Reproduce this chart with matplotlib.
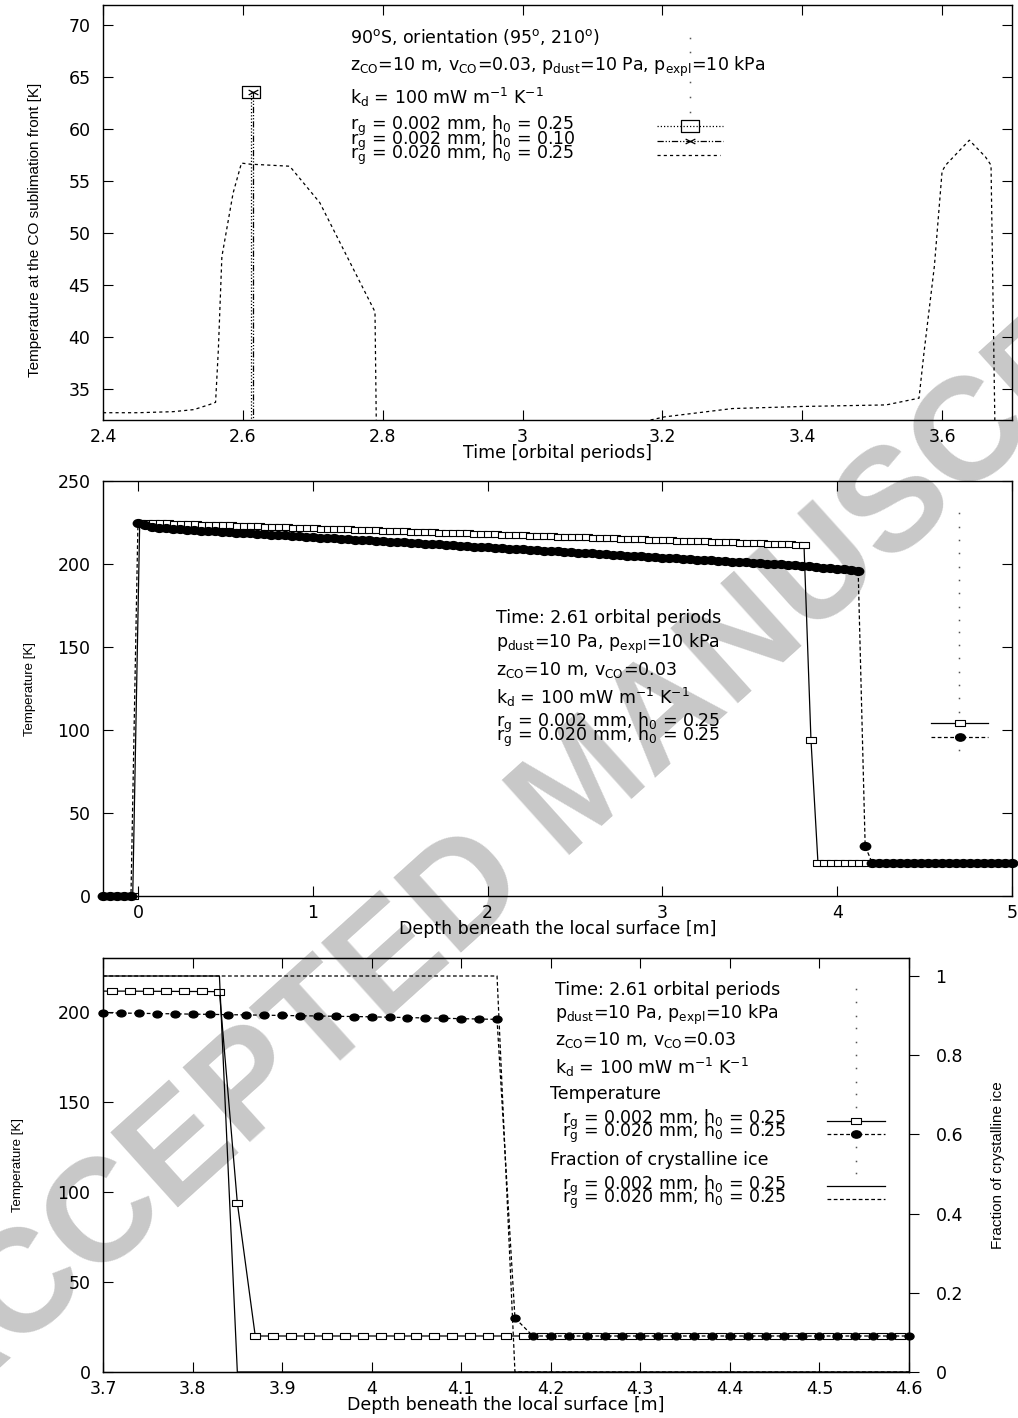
import numpy as np
import matplotlib.pyplot as plt
from matplotlib.lines import Line2D
from matplotlib.path import Path
from matplotlib.ticker import FixedLocator, FixedFormatter

# ---------------- data ----------------
# top panel: temperature at the CO sublimation front vs time [orbital periods]
time_a = [2.612, 2.612]          # r_g = 0.002 mm, h0 = 0.25
temp_a = [63.5, 25.0]
time_b = [2.615, 2.615]          # r_g = 0.002 mm, h0 = 0.10
temp_b = [63.5, 25.0]
time_c = [2.40, 2.45, 2.50, 2.53, 2.553, 2.561, 2.565, 2.570, 2.586, 2.598,
          2.61, 2.667, 2.71, 2.789, 2.792, 2.80, 3.15, 3.203, 3.30, 3.40,
          3.52, 3.567, 3.574, 3.589, 3.600, 3.605, 3.639, 3.662, 3.670, 3.677]
temp_c = [32.7, 32.7, 32.8, 33.0, 33.5, 33.7, 38.8, 47.7, 53.8, 56.7,
          56.6, 56.4, 52.9, 42.4, 25.0, 25.0, 31.5, 32.3, 33.1, 33.3,
          33.45, 34.1, 38.4, 46.8, 55.9, 56.5, 58.9, 57.3, 56.5, 25.0]

# middle panel: temperature profile at t = 2.61 (model nodes every 0.04 m)
depth_mid_a = np.round(np.arange(-0.19, 4.98, 0.04), 2)
temp_mid_a = [0.0] * 5 + [
    225.0, 224.9, 224.7, 224.6, 224.4, 224.3, 224.2, 224.0, 223.9, 223.7,
    223.6, 223.4, 223.3, 223.2, 223.0, 222.9, 222.7, 222.6, 222.5, 222.3,
    222.2, 222.0, 221.9, 221.8, 221.6, 221.5, 221.3, 221.2, 221.0, 220.9,
    220.8, 220.6, 220.5, 220.3, 220.2, 220.1, 219.9, 219.8, 219.6, 219.5,
    219.4, 219.2, 219.1, 218.9, 218.8, 218.7, 218.5, 218.4, 218.2, 218.1,
    217.9, 217.8, 217.7, 217.5, 217.4, 217.2, 217.1, 217.0, 216.8, 216.7,
    216.5, 216.4, 216.3, 216.1, 216.0, 215.8, 215.7, 215.5, 215.4, 215.3,
    215.1, 215.0, 214.8, 214.7, 214.6, 214.4, 214.3, 214.1, 214.0, 213.9,
    213.7, 213.6, 213.4, 213.3, 213.1, 213.0, 212.9, 212.7, 212.6, 212.4,
    212.3, 212.2, 212.0, 211.9, 211.7, 211.6] + [94.0] + [20.0] * 28

depth_mid_b = np.round(np.arange(-0.20, 5.01, 0.04), 2)
temp_mid_b = [0.0] * 5 + [
    225.0, 223.5, 222.3, 221.6, 221.4, 221.1, 220.9, 220.6, 220.4, 220.1,
    219.9, 219.6, 219.4, 219.1, 218.9, 218.7, 218.4, 218.2, 217.9, 217.7,
    217.4, 217.2, 216.9, 216.7, 216.4, 216.2, 215.9, 215.7, 215.5, 215.2,
    215.0, 214.7, 214.5, 214.2, 214.0, 213.7, 213.5, 213.2, 213.0, 212.8,
    212.5, 212.3, 212.0, 211.8, 211.5, 211.3, 211.0, 210.8, 210.5, 210.3,
    210.1, 209.8, 209.6, 209.3, 209.1, 208.8, 208.6, 208.3, 208.1, 207.8,
    207.6, 207.3, 207.1, 206.9, 206.6, 206.4, 206.1, 205.9, 205.6, 205.4,
    205.1, 204.9, 204.6, 204.4, 204.1, 203.9, 203.7, 203.4, 203.2, 202.9,
    202.7, 202.4, 202.2, 201.9, 201.7, 201.4, 201.2, 201.0, 200.7, 200.5,
    200.2, 200.0, 199.7, 199.5, 199.2, 198.8, 198.5, 198.1, 197.8, 197.5,
    197.1, 196.8, 196.4, 196.0] + [30.0] + [20.0] * 21

# bottom panel: zoom on the front (nodes every 0.02 m)
depth_bot_a = np.round(np.arange(3.69, 4.60, 0.02), 2)
temp_bot_a = [211.6, 211.6, 211.6, 211.5, 211.5, 211.4, 211.4, 211.3] + [94.0] + [20.0] * 37
depth_bot_b = np.round(np.arange(3.70, 4.61, 0.02), 2)
temp_bot_b = [199.6, 199.4, 199.3, 199.1, 199.0, 198.8, 198.7, 198.5, 198.4, 198.2,
              198.1, 197.9, 197.8, 197.6, 197.5, 197.3, 197.1, 196.9, 196.7, 196.5,
              196.3, 196.1, 195.9] + [30.0] + [20.0] * 22
frac_depth_a = [3.70, 3.83, 3.85, 4.60]
frac_a = [1.0, 1.0, 0.0, 0.0]
frac_depth_b = [3.70, 4.14, 4.16, 4.60]
frac_b = [1.0, 1.0, 0.0, 0.0]

# ticks
top_xticks = [2.4, 2.6, 2.8, 3.0, 3.2, 3.4, 3.6]
top_xlabels = ['2.4', '2.6', '2.8', '3', '3.2', '3.4', '3.6']
top_yticks = [35, 40, 45, 50, 55, 60, 65, 70]
mid_xticks = [0, 1, 2, 3, 4, 5]
mid_yticks = [0, 50, 100, 150, 200, 250]
bot_xticks = [3.7, 3.8, 3.9, 4.0, 4.1, 4.2, 4.3, 4.4, 4.5, 4.6]
bot_xlabels = ['3.7', '3.8', '3.9', '4', '4.1', '4.2', '4.3', '4.4', '4.5', '4.6']
bot_yticks = [0, 50, 100, 150, 200]
frac_ticks = [0, 0.2, 0.4, 0.6, 0.8, 1.0]
frac_labels = ['0', '0.2', '0.4', '0.6', '0.8', '1']

# ---------------- figure ----------------
W, H = 1018, 1418
plt.rcParams['font.family'] = ['DejaVu Sans']
plt.rcParams['mathtext.default'] = 'regular'
FS = 12.5
YFONT = ['Liberation Sans', 'DejaVu Sans']

fig = plt.figure(figsize=(W / 100, H / 100), dpi=100)


def box(x0, y0, x1, y1):
    return [x0 / W, 1 - y1 / H, (x1 - x0) / W, (y1 - y0) / H]


def style(ax):
    ax.set_facecolor('none')
    for s in ax.spines.values():
        s.set_linewidth(1.0)
    ax.tick_params(direction='in', length=7, width=0.8, top=True, right=True,
                   labelsize=FS)
    ax.tick_params(axis='x', pad=6)
    ax.tick_params(axis='y', pad=9)


# marker shapes (gnuplot squares/circles look flattened in the original)
rect = Path([(-1, -0.62), (1, -0.62), (1, 0.62), (-1, 0.62), (-1, -0.62)],
            [Path.MOVETO, Path.LINETO, Path.LINETO, Path.LINETO, Path.CLOSEPOLY])
circ = Path.unit_circle()
ell = Path(circ.vertices * np.array([1.0, 0.75]), circ.codes)
cross = Path([(-1, -0.5), (1, 0.5), (-1, 0.5), (1, -0.5)],
             [Path.MOVETO, Path.LINETO, Path.MOVETO, Path.LINETO])

DOT = (0, (1, 1.6))
DDD = (0, (5, 1.5, 1, 1.5, 1, 1.5))
SHORT = (0, (2.5, 2.5))
DASH = (0, (3, 2))

# watermark
fig.text(585 / W, 1 - 790 / H, 'ACCEPTED MANUSCRIPT', rotation=42, fontsize=105,
         fontweight='bold', color='#c8c8c8', ha='center', va='center',
         family=['Liberation Sans', 'DejaVu Sans'], zorder=-5)

# ---- top panel ----
ax1 = fig.add_axes(box(103, 5, 1012, 420))
style(ax1)
ax1.plot(time_a, temp_a, color='black', lw=0.9, ls=DOT, marker=rect, ms=13.5,
         mfc='none', mec='black', mew=0.9)
ax1.plot(time_b, temp_b, color='black', lw=0.9, ls=DDD, marker=cross, ms=7,
         mec='black', mew=0.9)
ax1.plot(time_c, temp_c, color='black', lw=0.9, ls=SHORT)
ax1.set_xlim(2.4, 3.7)
ax1.set_ylim(32.0, 71.9)
ax1.xaxis.set_major_locator(FixedLocator(top_xticks))
ax1.xaxis.set_major_formatter(FixedFormatter(top_xlabels))
ax1.yaxis.set_major_locator(FixedLocator(top_yticks))
ax1.set_xlabel('Time [orbital periods]', fontsize=FS, va='center')
ax1.xaxis.set_label_coords(0.5, -(453 - 420) / 415)
ax1.set_ylabel('Temperature at the CO sublimation front [K]', family=YFONT,
               fontsize=11, va='center')
ax1.yaxis.set_label_coords((35 - 103) / 909, (420 - 230) / 415)

# ---- middle panel ----
ax2 = fig.add_axes(box(103, 481, 1012, 896))
style(ax2)
ax2.plot(depth_mid_a, temp_mid_a, color='black', lw=0.9, ls='-', marker=rect,
         ms=7, mfc='white', mec='black', mew=0.8, clip_on=False)
ax2.plot(depth_mid_b, temp_mid_b, color='black', lw=0.9, ls=DASH, marker=ell,
         ms=7.5, mfc='black', mec='black', clip_on=False)
ax2.set_xlim(-0.2, 5)
ax2.set_ylim(0, 250)
ax2.xaxis.set_major_locator(FixedLocator(mid_xticks))
ax2.yaxis.set_major_locator(FixedLocator(mid_yticks))
ax2.set_xlabel('Depth beneath the local surface [m]', fontsize=FS, va='center')
ax2.xaxis.set_label_coords(0.5, -(929 - 896) / 415)
ax2.set_ylabel('Temperature [K]', family=YFONT, fontsize=9.5, va='center')
ax2.yaxis.set_label_coords((30 - 103) / 909, 0.5)

# ---- bottom panel ----
ax3 = fig.add_axes(box(103, 958, 909, 1372))
style(ax3)
ax3.plot(depth_bot_a, temp_bot_a, color='black', lw=0.9, ls='-')
ax3.plot(depth_bot_a[1:], temp_bot_a[1:], ls='none', marker=rect, ms=6.5,
         mfc='white', mec='black', mew=0.8, clip_on=False)
ax3.plot(depth_bot_b, temp_bot_b, color='black', lw=0.9, ls=DASH)
ax3.plot(depth_bot_b, temp_bot_b, ls='none', marker=ell, ms=6.5, mfc='black',
         mec='black', clip_on=False, zorder=3)
ax3.set_xlim(3.7, 4.6)
ax3.set_ylim(0, 230)
ax3.xaxis.set_major_locator(FixedLocator(bot_xticks))
ax3.xaxis.set_major_formatter(FixedFormatter(bot_xlabels))
ax3.yaxis.set_major_locator(FixedLocator(bot_yticks))
ax3.set_xlabel('Depth beneath the local surface [m]', fontsize=FS, va='center')
ax3.xaxis.set_label_coords(0.5, -(1405 - 1372) / 414)
ax3.set_ylabel('Temperature [K]', family=YFONT, fontsize=9.5, va='center')
ax3.yaxis.set_label_coords((18 - 103) / 806, 0.5)

ax3r = ax3.twinx()
ax3r.set_facecolor('none')
ax3r.plot(frac_depth_a, frac_a, color='black', lw=0.9, ls='-')
ax3r.plot(frac_depth_b, frac_b, color='black', lw=0.9, ls=DASH)
ax3r.set_ylim(0, 230 / 220)
ax3r.yaxis.set_major_locator(FixedLocator(frac_ticks))
ax3r.yaxis.set_major_formatter(FixedFormatter(frac_labels))
ax3r.tick_params(axis='y', direction='out', length=7, width=0.8, labelsize=FS, pad=12)
ax3r.set_ylabel('Fraction of crystalline ice', family=YFONT, fontsize=11, va='center')
ax3r.yaxis.set_label_coords((998 - 103) / 806, 0.5)


# ---------------- gnuplot-style keys ----------------
def label(x, y, s):
    fig.text(x / W, 1 - y / H, s, ha='left', va='center', fontsize=FS)


def sample(x0, x1, y, ls='-', marker=None, **kw):
    fig.add_artist(Line2D([x0 / W, x1 / W], [1 - y / H, 1 - y / H], color='black',
                          lw=0.9, ls=ls, transform=fig.transFigure))
    if marker is not None:
        fig.add_artist(Line2D([(x0 + x1) / 2 / W], [1 - y / H], ls='none',
                              marker=marker, transform=fig.transFigure, **kw))


def dots(x, ys):
    fig.add_artist(Line2D([x / W] * len(ys), [1 - y / H for y in ys], ls='none',
                          marker='s', ms=1.1, mfc='#555555', mec='none',
                          transform=fig.transFigure))


kd = r'$k_{d}$ = 100 mW m$^{-1}$ K$^{-1}$'
rg1 = r'$r_{g}$ = 0.002 mm, $h_{0}$ = 0.25'
rg2 = r'$r_{g}$ = 0.020 mm, $h_{0}$ = 0.25'

# top key
label(350, 37, r'90$^{o}$S, orientation (95$^{o}$, 210$^{o}$)')
label(350, 67, r'$z_{CO}$=10 m, $v_{CO}$=0.03, $p_{dust}$=10 Pa, $p_{expl}$=10 kPa')
label(350, 97, kd)
label(350, 126, rg1)
label(350, 141, r'$r_{g}$ = 0.002 mm, $h_{0}$ = 0.10')
label(350, 155, rg2)
dots(690, [38, 52, 82, 97, 112])
sample(657, 723, 126, ls=DOT, marker=rect, ms=13.5, mfc='none', mec='black', mew=0.9)
sample(657, 723, 141, ls=DDD, marker=cross, ms=7, mec='black', mew=0.9)
sample(657, 720, 155, ls=SHORT)

# middle key
label(496, 618, 'Time: 2.61 orbital periods')
label(496, 644, r'$p_{dust}$=10 Pa, $p_{expl}$=10 kPa')
label(496, 670, r'$z_{CO}$=10 m, $v_{CO}$=0.03')
label(496, 697, kd)
label(496, 723, rg1)
label(496, 737, rg2)
dots(959, [513, 527, 540, 553, 567, 580, 593, 607, 620, 632, 645, 658, 672, 685,
           698, 712, 750])
sample(931, 988, 723, ls='-', marker=rect, ms=7, mfc='white', mec='black', mew=0.8)
sample(931, 988, 737, ls=DASH, marker=ell, ms=7, mfc='black', mec='black')

# bottom key
label(555, 990, 'Time: 2.61 orbital periods')
label(555, 1015, r'$p_{dust}$=10 Pa, $p_{expl}$=10 kPa')
label(555, 1040, r'$z_{CO}$=10 m, $v_{CO}$=0.03')
label(555, 1067, kd)
label(550, 1094, 'Temperature')
label(562, 1120, rg1)
label(562, 1133, rg2)
label(550, 1160, 'Fraction of crystalline ice')
label(562, 1186, rg1)
label(562, 1199, rg2)
dots(856, [989, 1002, 1016, 1028, 1042, 1055, 1068, 1082, 1094, 1107, 1147, 1161, 1173])
sample(827, 885, 1121, ls='-', marker=rect, ms=7, mfc='white', mec='black', mew=0.8)
sample(827, 885, 1134, ls=DASH, marker=ell, ms=7, mfc='black', mec='black')
sample(827, 885, 1186, ls='-')
sample(827, 885, 1199, ls=DASH)

fig.savefig('out.png', dpi=100)
